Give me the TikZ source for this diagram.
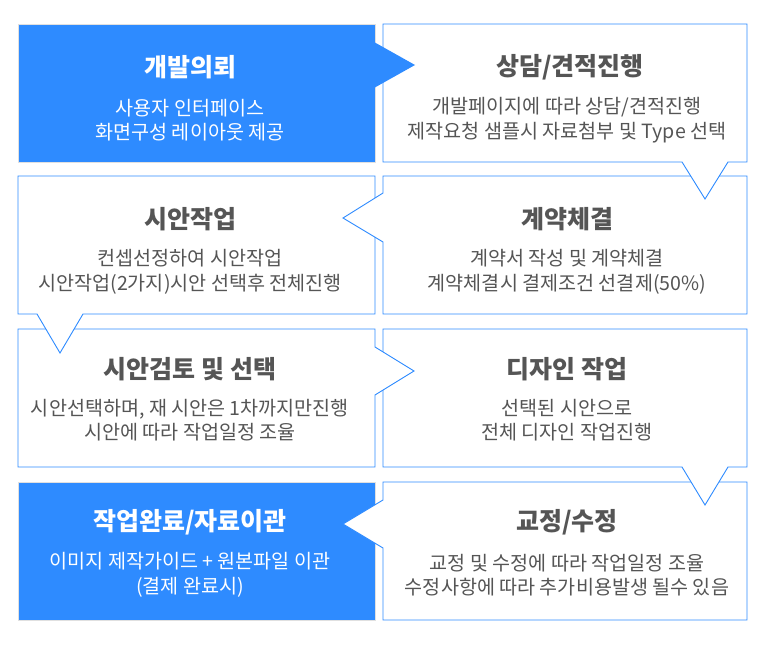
\documentclass[tikz,border=0pt]{standalone}
\usepackage{fontspec}
\setmainfont{Noto Sans CJK KR}
\usepackage{tikz}
\usetikzlibrary{calc}

\definecolor{stepblue}{HTML}{2E8BFF}
\definecolor{textgray}{HTML}{555555}

\begin{document}
\begin{tikzpicture}[x=1pt, y=-1pt,
    callout/.style={draw=stepblue, fill=white, line width=0.9pt, line join=miter},
    bluebox/.style={fill=stepblue, draw=black!12, line width=0.8pt},
    steptitle/.style={font=\fontsize{25}{30}\selectfont\bfseries, text=textgray},
    steptext/.style={font=\fontsize{19.6}{24.5}\selectfont, text=textgray, align=center},
    whitetitle/.style={steptitle, text=white},
    whitetext/.style={steptext, text=white}]

    % Page frame
    \useasboundingbox (0,0) rectangle (767,652);

            % Step 8: work done (blue, no pointer)
            \filldraw[bluebox] (18,482) rectangle (375,620);

            % Step 7: correction, pointer to the left
            \filldraw[callout] (383,482) -- (747,482) -- (747,620) -- (383,620)
                -- (383,548) -- (343,524) -- (383,500) -- cycle;

            % Step 6: design, pointer down
            \filldraw[callout] (383,329) -- (747,329) -- (747,467) -- (728,467)
                -- (705,505) -- (682,467) -- (383,467) -- cycle;

            % Step 5: review, pointer to the right
            \filldraw[callout] (18,329) -- (375,329) -- (375,347) -- (414,371)
                -- (375,395) -- (375,467) -- (18,467) -- cycle;

            % Step 4: draft, pointer down
            \filldraw[callout] (18,176) -- (375,176) -- (375,314) -- (83,314)
                -- (60,353) -- (37,314) -- (18,314) -- cycle;

            % Step 3: contract, pointer to the left
            \filldraw[callout] (383,176) -- (747,176) -- (747,314) -- (383,314)
                -- (383,242) -- (343,218) -- (383,193) -- cycle;

            % Step 2: consulting, pointer down
            \filldraw[callout] (383,24) -- (747,24) -- (747,162) -- (728,162)
                -- (705,199) -- (682,162) -- (383,162) -- cycle;

            % Step 1: request (blue) with its pointer
            \filldraw[bluebox] (18,24) rectangle (375,162);
            \fill[stepblue] (374,42) -- (415,65) -- (374,88) -- cycle;

            % Titles
            \node[whitetitle] (request) at (190,67) {개발의뢰};
            \node[steptitle] (consult) at (570,67) {상담/견적진행};
            \node[steptitle] (draft) at (190,219) {시안작업};
            \node[steptitle] (contract) at (567,219) {계약체결};
            \node[steptitle] (review) at (190,369) {시안검토 및 선택};
            \node[steptitle] (design) at (567,369) {디자인 작업};
            \node[whitetitle] (done) at (190,522) {작업완료/자료이관};
            \node[steptitle] (correct) at (567,522) {교정/수정};

            % Descriptions
            \node[whitetext] (requesttext) at (190,120) {사용자 인터페이스\\화면구성 레이아웃 제공};
            \node[steptext] (consulttext) at (567,120) {개발페이지에 따라 상담/견적진행\\제작요청 샘플시 자료첨부 및 Type 선택};
            \node[steptext] (drafttext) at (190,272) {컨셉선정하여 시안작업\\시안작업(2가지)시안 선택후 전체진행};
            \node[steptext] (contracttext) at (567,272) {계약서 작성 및 계약체결\\계약체결시 결제조건 선결제(50\%)};
            \node[steptext] (reviewtext) at (190,420) {시안선택하며, 재 시안은 1차까지만진행\\시안에 따라 작업일정 조율};
            \node[steptext] (designtext) at (567,420) {선택된 시안으로\\전체 디자인 작업진행};
            \node[whitetext] (donetext) at (190,575) {이미지 제작가이드 + 원본파일 이관\\(결제 완료시)};
            \node[steptext] (correcttext) at (567,575) {교정 및 수정에 따라 작업일정 조율\\수정사항에 따라 추가비용발생 될수 있음};
        \end{tikzpicture}
\end{document}
